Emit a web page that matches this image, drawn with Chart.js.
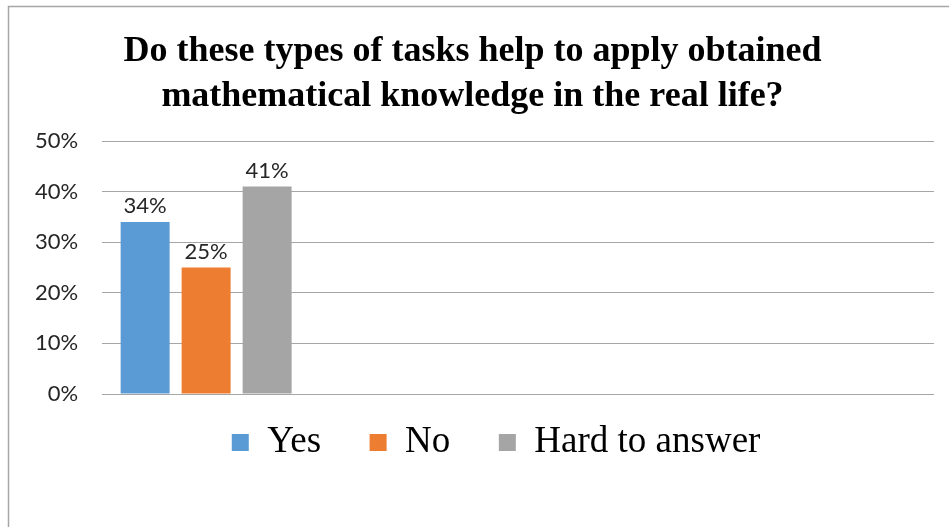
<!DOCTYPE html>
<html>
<head>
<meta charset="utf-8">
<script src="https://cdn.jsdelivr.net/npm/chart.js@4/dist/chart.umd.min.js"></script>
<style>
  html, body { margin: 0; padding: 0; background: #ffffff; }
  #wrap { position: relative; width: 949px; height: 527px; }
</style>
</head>
<body>
<div id="wrap"><canvas id="c" width="949" height="527"></canvas></div>
<script>
// ---- data ----
const titleLines = ["Do these types of tasks help to apply obtained", "mathematical knowledge in the real life?"];
const categories = ["", "", "", ""];
const seriesNames = ["Yes", "No", "Hard to answer"];
const yesValues = [34, null, null, null];
const noValues = [25, null, null, null];
const hardValues = [41, null, null, null];
const yTicks = [0, 10, 20, 30, 40, 50];
const colors = ["#5b9bd5", "#ed7d31", "#a5a5a5"];

const borderPlugin = {
  id: 'frame',
  beforeDraw(chart) {
    const ctx = chart.ctx;
    ctx.save();
    ctx.fillStyle = '#ffffff';
    ctx.fillRect(0, 0, chart.width, chart.height);
    ctx.strokeStyle = '#a6a6a6';
    ctx.lineWidth = 1.5;
    ctx.beginPath();
    ctx.moveTo(8.5, chart.height);
    ctx.lineTo(8.5, 6.5);
    ctx.lineTo(chart.width, 6.5);
    ctx.stroke();
    ctx.restore();
  }
};

// nudge the legend block slightly left, as in the original layout
const legendShift = {
  id: 'legendShift',
  afterLayout(chart) {
    const lg = chart.legend;
    if (lg) { lg.left -= 22; lg.right -= 22; }
  }
};

const labelPlugin = {
  id: 'valueLabels',
  afterDatasetsDraw(chart) {
    const ctx = chart.ctx;
    ctx.save();
    ctx.font = '22px Lato';
    ctx.fillStyle = '#262626';
    ctx.textAlign = 'center';
    ctx.textBaseline = 'alphabetic';
    chart.data.datasets.forEach((ds, i) => {
      const meta = chart.getDatasetMeta(i);
      meta.data.forEach((bar, j) => {
        const v = ds.data[j];
        if (v === null || v === undefined) return;
        ctx.fillText(v + '%', bar.x, bar.y - 9);
      });
    });
    ctx.restore();
  }
};

new Chart(document.getElementById('c'), {
  type: 'bar',
  data: {
    labels: categories,
    datasets: [
      { label: seriesNames[0], data: yesValues, backgroundColor: colors[0] },
      { label: seriesNames[1], data: noValues, backgroundColor: colors[1] },
      { label: seriesNames[2], data: hardValues, backgroundColor: colors[2] }
    ]
  },
  options: {
    responsive: false,
    animation: false,
    devicePixelRatio: 1,
    categoryPercentage: 0.88,
    barPercentage: 0.803,
    layout: { padding: { left: 11, right: 15, top: 29, bottom: 56 } },
    plugins: {
      tooltip: { enabled: false },
      title: {
        display: true,
        text: titleLines,
        color: '#000000',
        font: { family: 'Liberation Serif', size: 36, weight: 'bold', lineHeight: 1.25 },
        padding: { top: 0, bottom: 22 }
      },
      legend: {
        position: 'bottom',
        fullSize: false,
        labels: {
          boxWidth: 17,
          boxHeight: 17,
          padding: 30,
          color: '#000000',
          font: { family: 'Liberation Serif', size: 37 },
          generateLabels(chart) {
            const items = Chart.defaults.plugins.legend.labels.generateLabels(chart);
            items.forEach((it, i) => {
              it.lineWidth = 0;
              if (i < items.length - 1) it.text = it.text + '\u2002';
            });
            return items;
          }
        }
      }
    },
    scales: {
      x: { display: false, offset: true, grid: { display: false } },
      y: {
        min: 0,
        max: 50,
        afterBuildTicks(scale) { scale.ticks = yTicks.map(v => ({ value: v })); },
        border: { display: false },
        grid: { color: '#a6a6a6', lineWidth: 1, drawTicks: false },
        ticks: {
          padding: 24,
          color: '#262626',
          font: { family: 'Lato', size: 22 },
          callback: v => v + '%'
        }
      }
    }
  },
  plugins: [borderPlugin, legendShift, labelPlugin]
});
</script>
</body>
</html>
